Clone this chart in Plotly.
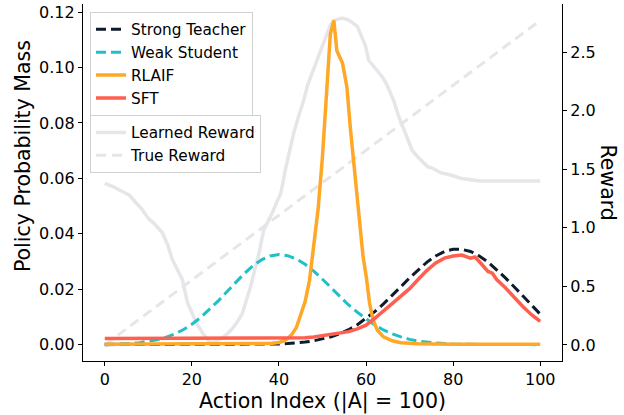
import plotly.graph_objects as go

# ---- data ----
teacher_x = [0, 10, 20, 30, 36, 38, 40, 42, 44, 46, 48, 50, 52, 54, 56, 58, 60, 62, 64, 66, 68, 70,
             72, 74, 76, 78, 80, 81, 82, 84, 86, 88, 90, 92, 94, 96, 98, 100]
teacher_y = [0.0, 0.0, 0.0, 0.00002, 0.00009, 0.00015, 0.00024, 0.00038, 0.0006, 0.00092, 0.00138,
             0.0020, 0.00286, 0.0040, 0.0054, 0.0072, 0.0094, 0.0119, 0.0147, 0.0177, 0.0209, 0.0241,
             0.0271, 0.0298, 0.0320, 0.0336, 0.0344, 0.0345, 0.0344, 0.0336, 0.0320, 0.0298, 0.0271,
             0.0241, 0.0209, 0.0176, 0.0143, 0.0110]

student_x = [0, 2, 4, 6, 8, 10, 12, 14, 16, 18, 20, 22, 24, 26, 28, 30, 32, 34, 36, 38, 40, 42, 44,
             46, 48, 50, 52, 54, 56, 58, 60, 62, 64, 66, 68, 70, 72, 74, 76, 78, 80, 84, 90, 100]
student_y = [0.0001, 0.00015, 0.00026, 0.00044, 0.00072, 0.00114, 0.00177, 0.00263, 0.00382,
             0.00537, 0.00735, 0.00975, 0.01255, 0.01568, 0.0190, 0.0224, 0.0256, 0.0284, 0.0306,
             0.0320, 0.0325, 0.0321, 0.0309, 0.0290, 0.0265, 0.0236, 0.0205, 0.0173, 0.0143, 0.0117,
             0.0093, 0.0071, 0.0053, 0.0039, 0.0028, 0.0019, 0.0013, 0.0009, 0.0006, 0.0004, 0.0002,
             0.0001, 0.0, 0.0]

rlaif_x = [0, 10, 20, 30, 36, 38, 40, 41, 42, 43, 44, 45, 46, 47, 48, 49, 50, 51, 51.8, 52.6, 53.3,
           54.6, 55.6, 56.4, 57.5, 58.5, 59.3, 60.1, 60.8, 61.6, 62.6, 64, 66, 68, 72, 80, 90, 100]
rlaif_y = [0.0001, 0.0001, 0.0001, 0.0001, 0.0002, 0.0004, 0.0008, 0.0013, 0.0022, 0.0038, 0.0062,
           0.0105, 0.0155, 0.0230, 0.0350, 0.0490, 0.0680, 0.0950, 0.1120, 0.1170, 0.1060, 0.1015,
           0.0930, 0.0780, 0.0610, 0.0440, 0.0320, 0.0240, 0.0150, 0.0090, 0.0052, 0.0028, 0.0014,
           0.0007, 0.0003, 0.0001, 0.0001, 0.0001]

sft_x = [0, 10, 20, 30, 40, 44, 46, 48, 50, 52, 54, 56, 58, 60, 62, 64, 66, 68, 70, 72, 74, 76, 78,
         80, 82, 84, 85, 86, 88, 89, 90, 92, 94, 96, 98, 100]
sft_y = [0.0022, 0.0022, 0.0022, 0.0022, 0.0022, 0.0023, 0.0025, 0.0028, 0.0033, 0.0038, 0.0043,
         0.0047, 0.0057, 0.0070, 0.0095, 0.0120, 0.0148, 0.0175, 0.0202, 0.0236, 0.0268, 0.0295,
         0.0312, 0.0320, 0.0323, 0.0312, 0.0316, 0.0300, 0.0264, 0.0258, 0.0235, 0.0205, 0.0170,
         0.0138, 0.0108, 0.0084]

learned_x = [0, 2, 4, 5.6, 7, 8.5, 10, 11.5, 13.2, 14.5, 15.5, 16.8, 17.8, 19, 20, 21, 22.5, 24,
             24.8, 26, 27, 28.3, 29.3, 30.5, 31.6, 32.5, 33.5, 34.5, 35.4, 36.5, 37.5, 38.5, 39.5,
             40.4, 41.5, 42.5, 43.4, 44.5, 45.7, 46.6, 47.6, 48.5, 49.5, 50.5, 51.8, 52.6, 53.4,
             54.5, 55.5, 56.5, 58, 59.2, 59.9, 60.6, 61.5, 62.5, 63.7, 64.8, 65.7, 66.4, 67.5, 68.8,
             70.6, 72, 73.2, 74.2, 75.2, 77.1, 79.4, 82, 84, 86.2, 90, 95, 100]
learned_y = [1.38, 1.35, 1.31, 1.28, 1.22, 1.16, 1.08, 1.03, 0.96, 0.85, 0.73, 0.64, 0.56, 0.36,
             0.27, 0.19, 0.10, 0.03, 0.02, 0.04, 0.06, 0.10, 0.14, 0.20, 0.27, 0.38, 0.50, 0.65,
             0.78, 0.98, 1.05, 1.13, 1.22, 1.29, 1.50, 1.68, 1.81, 1.95, 2.09, 2.22, 2.32, 2.42,
             2.52, 2.60, 2.73, 2.77, 2.78, 2.79, 2.78, 2.76, 2.72, 2.62, 2.55, 2.43, 2.39, 2.35,
             2.29, 2.22, 2.15, 2.08, 1.95, 1.82, 1.66, 1.60, 1.56, 1.52, 1.51, 1.47, 1.45, 1.42,
             1.41, 1.40, 1.40, 1.40, 1.40]

true_x = [0, 100]
true_y = [0.0, 2.77]

x_ticks = [0, 20, 40, 60, 80, 100]
prob_ticks = [0.00, 0.02, 0.04, 0.06, 0.08, 0.10, 0.12]
reward_ticks = [0.0, 0.5, 1.0, 1.5, 2.0, 2.5]

FONT = "DejaVu Sans"
TICK_SIZE = 16
TITLE_SIZE = 20.5
LEG_SIZE = 15.3

fig = go.Figure()

# reward traces on the primary (back) y axis
fig.add_trace(go.Scatter(x=learned_x, y=learned_y, mode="lines", name="Learned Reward",
                         line=dict(color="#e6e6ea", width=3.5), yaxis="y", legend="legend2"))
fig.add_trace(go.Scatter(x=true_x, y=true_y, mode="lines", name="True Reward",
                         line=dict(color="#e6e6ea", width=3, dash="10px,6px"), yaxis="y",
                         legend="legend2"))

# policy traces on overlay axis (drawn on top)
fig.add_trace(go.Scatter(x=teacher_x, y=teacher_y, mode="lines", name="Strong Teacher",
                         line=dict(color="#0d1b2a", width=3, dash="10px,5px"), yaxis="y2"))
fig.add_trace(go.Scatter(x=student_x, y=student_y, mode="lines", name="Weak Student",
                         line=dict(color="#1fc0c6", width=3, dash="10px,5px"), yaxis="y2"))
fig.add_trace(go.Scatter(x=rlaif_x, y=rlaif_y, mode="lines", name="RLAIF",
                         line=dict(color="#ffa726", width=3.5), yaxis="y2"))
fig.add_trace(go.Scatter(x=sft_x, y=sft_y, mode="lines", name="SFT",
                         line=dict(color="#ff5f4f", width=3.5), yaxis="y2"))

axis_common = dict(showgrid=False, zeroline=False, showline=True, linecolor="black",
                   linewidth=1.2, ticks="outside", ticklen=4, tickwidth=1.2, tickcolor="black",
                   automargin=False,
                   tickfont=dict(family=FONT, size=TICK_SIZE, color="black"))

leg_common = dict(xanchor="left", yanchor="top", bgcolor="rgba(255,255,255,0.85)",
                  bordercolor="#d0d0d0", borderwidth=1, itemwidth=30,
                  font=dict(family=FONT, size=LEG_SIZE, color="black"), traceorder="normal")

fig.update_layout(
    width=624, height=415,
    margin=dict(l=83, r=62, t=4, b=54),
    paper_bgcolor="white", plot_bgcolor="white",
    font=dict(family=FONT, color="black"),
    xaxis=dict(range=[-5, 105], tickvals=x_ticks,
               title=dict(text="Action Index (|A| = 100)",
                          font=dict(family=FONT, size=TITLE_SIZE), standoff=4),
               **axis_common),
    yaxis=dict(range=[-0.137, 2.91], tickvals=reward_ticks, tickformat=".1f", side="right",
               **axis_common),
    yaxis2=dict(range=[-0.0059, 0.1229], tickvals=prob_ticks, tickformat=".2f", side="left",
                overlaying="y", **axis_common),
    legend=dict(x=0.0146, y=0.978, **leg_common),
    legend2=dict(x=0.0146, y=0.689, **leg_common),
    annotations=[
        dict(text="Reward", textangle=90, xref="paper", yref="paper",
             x=1.0, xanchor="center", xshift=46, y=0.5, yanchor="middle",
             showarrow=False, font=dict(family=FONT, size=TITLE_SIZE, color="black")),
        dict(text="Policy Probability Mass", textangle=-90, xref="paper", yref="paper",
             x=0.0, xanchor="center", xshift=-60, y=0.574, yanchor="middle",
             showarrow=False, font=dict(family=FONT, size=TITLE_SIZE, color="black")),
    ],
)

fig.write_html("out.html", config={"displayModeBar": False},
               post_script="document.body.style.margin='0';document.body.style.padding='0';")
